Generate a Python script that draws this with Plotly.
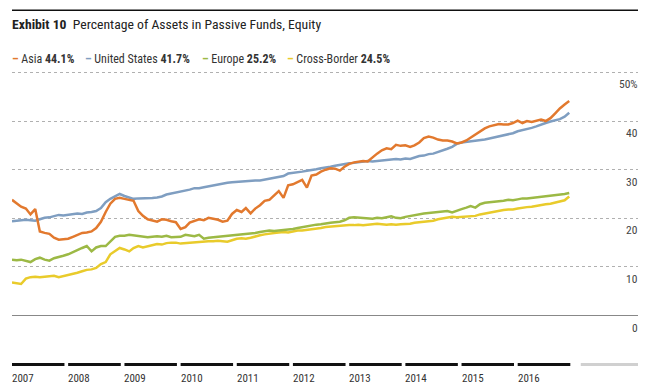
import plotly.graph_objects as go
import pandas as pd

dates = pd.date_range("2007-01-01", periods=120, freq="MS")

asia = [23.8, 23.0, 22.4, 22.0, 20.8, 21.9, 17.3, 17.0, 16.8, 16.0, 15.6, 15.7,
        15.8, 16.2, 16.6, 17.0, 17.1, 17.3, 18.0, 19.3, 21.3, 23.0, 24.0, 24.2,
        24.0, 23.8, 23.6, 21.5, 20.5, 19.8, 19.5, 19.3, 19.8, 19.7, 19.4, 19.2,
        17.8, 18.2, 19.1, 19.5, 19.8, 19.6, 20.1, 19.9, 19.7, 19.3, 19.5, 20.9,
        21.7, 21.3, 22.1, 21.0, 22.0, 22.7, 23.6, 23.8, 24.8, 25.6, 24.2, 26.8,
        27.0, 27.5, 27.9, 26.3, 28.8, 29.0, 29.6, 30.0, 30.3, 30.2, 29.8, 30.6,
        31.2, 31.5, 31.6, 31.8, 31.7, 32.6, 33.3, 34.0, 34.4, 34.2, 35.1, 34.9,
        35.0, 34.7, 35.0, 35.6, 36.5, 36.8, 36.6, 36.2, 36.0, 36.0, 35.8, 35.4,
        35.6, 36.0, 36.6, 37.3, 38.0, 38.5, 38.9, 39.2, 39.4, 39.3, 39.3, 39.6,
        40.1, 39.6, 40.0, 39.8, 40.1, 40.3, 40.0, 40.6, 41.6, 42.6, 43.4, 44.1]

us = [19.4, 19.5, 19.6, 19.7, 19.6, 19.5, 19.8, 20.1, 20.2, 20.5, 20.7, 20.6,
      20.7, 20.9, 21.0, 20.9, 21.2, 21.3, 21.5, 22.1, 23.3, 24.0, 24.6, 25.0,
      24.6, 24.2, 24.0, 24.1, 24.1, 24.1, 24.2, 24.3, 24.5, 24.9, 25.1, 25.2,
      25.4, 25.6, 25.9, 26.2, 26.2, 26.4, 26.6, 26.7, 26.9, 27.1, 27.3, 27.4,
      27.5, 27.6, 27.6, 27.7, 27.8, 27.8, 28.0, 28.1, 28.3, 28.5, 28.7, 29.2,
      29.3, 29.4, 29.6, 29.8, 29.9, 30.1, 30.3, 30.4, 30.6, 30.8, 31.0, 31.2,
      31.3, 31.4, 31.5, 31.6, 31.8, 31.7, 31.8, 31.9, 31.9, 32.0, 32.2, 32.1,
      32.3, 32.2, 32.5, 32.8, 32.9, 33.2, 33.3, 33.6, 33.9, 34.3, 34.7, 35.3,
      35.6, 35.7, 35.9, 36.0, 36.1, 36.2, 36.4, 36.6, 36.8, 37.0, 37.2, 37.5,
      37.9, 38.1, 38.3, 38.6, 38.9, 39.3, 39.6, 39.9, 40.1, 40.4, 40.9, 41.7]

europe = [11.5, 11.4, 11.5, 11.3, 11.0, 11.6, 11.9, 11.5, 11.3, 11.8, 12.0, 12.3,
          12.6, 13.1, 13.5, 13.9, 14.3, 13.2, 14.0, 14.3, 14.3, 15.2, 16.2, 16.4,
          16.4, 16.6, 16.5, 16.4, 16.2, 16.1, 16.2, 16.3, 16.2, 16.4, 16.1, 16.1,
          16.2, 16.6, 16.4, 16.3, 16.6, 15.8, 16.0, 16.1, 16.2, 16.3, 16.4, 16.5,
          16.6, 16.6, 16.7, 16.8, 17.0, 17.2, 17.3, 17.5, 17.4, 17.5, 17.6, 17.6,
          17.8, 18.0, 18.2, 18.4, 18.6, 18.7, 18.8, 19.0, 19.1, 19.2, 19.3, 19.6,
          20.1, 20.2, 20.1, 20.0, 20.0, 19.9, 20.1, 20.0, 20.2, 20.4, 20.1, 20.0,
          20.3, 20.5, 20.6, 20.8, 21.0, 21.1, 21.2, 21.3, 21.3, 21.5, 21.2, 21.6,
          21.9, 22.2, 22.5, 22.2, 22.9, 23.2, 23.3, 23.3, 23.5, 23.6, 23.8, 23.7,
          23.9, 24.1, 24.1, 24.2, 24.3, 24.4, 24.5, 24.6, 24.7, 24.9, 25.0, 25.2]

cross_border = [6.8, 6.6, 6.5, 7.6, 7.9, 8.0, 7.9, 8.0, 8.1, 8.2, 7.9, 8.1,
                8.4, 8.6, 8.8, 9.1, 9.4, 9.5, 9.8, 10.6, 11.0, 12.6, 13.2, 13.9,
                13.6, 13.2, 13.9, 14.3, 14.0, 14.2, 14.5, 14.7, 14.6, 14.9, 15.0, 15.0,
                14.8, 14.9, 15.0, 15.0, 15.1, 15.2, 15.3, 15.3, 15.4, 15.3, 15.2, 15.5,
                15.8, 15.9, 15.8, 16.0, 16.3, 16.5, 16.7, 16.9, 17.0, 17.1, 17.2, 17.1,
                17.3, 17.5, 17.5, 17.6, 17.8, 17.9, 18.0, 18.2, 18.3, 18.4, 18.5, 18.5,
                18.6, 18.6, 18.7, 18.6, 18.7, 18.8, 18.9, 18.8, 18.7, 18.8, 18.7, 18.8,
                18.8, 18.9, 19.1, 19.2, 19.3, 19.3, 19.5, 19.8, 20.0, 20.1, 20.3, 20.2,
                20.3, 20.4, 20.5, 20.5, 20.8, 21.0, 21.1, 21.3, 21.5, 21.7, 21.8, 21.8,
                22.0, 22.2, 22.3, 22.4, 22.6, 22.7, 22.9, 23.0, 23.2, 23.4, 23.7, 24.5]

series_names = ["Asia", "United States", "Europe", "Cross-Border"]
series_latest = ["44.1%", "41.7%", "25.2%", "24.5%"]
series_colors = ["#E2792E", "#7F9EC1", "#9CB945", "#E9CB2B"]
series_values = [asia, us, europe, cross_border]

years = [2007, 2008, 2009, 2010, 2011, 2012, 2013, 2014, 2015, 2016]
y_ticks = [0, 10, 20, 30, 40, 50]
y_tick_labels = ["0", "10", "20", "30", "40", "50%"]

FONT = "'Roboto Condensed', Roboto, 'Liberation Sans', sans-serif"

fig = go.Figure()
# draw in reverse so Asia on top
for name, vals, col in reversed(list(zip(series_names, series_values, series_colors))):
    fig.add_trace(go.Scatter(x=dates, y=vals, mode="lines", name=name,
                             line=dict(color=col, width=2.5), hoverinfo="skip"))

fig.update_layout(
    width=666, height=391,
    margin=dict(l=12, r=28, t=69.6, b=72.6),
    paper_bgcolor="white", plot_bgcolor="white",
    showlegend=False,
    font=dict(family=FONT, color="#333"),
    xaxis=dict(type="date", range=["2007-01-01", "2018-02-21"], showticklabels=False,
               showgrid=False, zeroline=False, showline=False, fixedrange=True),
    yaxis=dict(range=[-0.5, 50.5], tickvals=y_ticks[1:], showticklabels=False,
               showgrid=True, gridcolor="#b0b0b0", griddash="dot", gridwidth=1,
               zeroline=True, zerolinecolor="#888888", zerolinewidth=1,
               showline=False, fixedrange=True),
)

# y labels below the gridlines, right aligned
for v, lab in zip(y_ticks, y_tick_labels):
    fig.add_annotation(x=1, xref="paper", y=v, yref="y", text=lab, showarrow=False,
                       xanchor="right", yanchor="top", yshift=-3, xshift=2,
                       font=dict(size=11.5, color="#444", family=FONT))

# year bars + labels
for yr in years:
    fig.add_shape(type="line", xref="x", yref="paper",
                  x0=f"{yr}-01-01", x1=f"{yr}-12-08", y0=-0.187, y1=-0.187,
                  line=dict(color="#111", width=3))
    fig.add_annotation(x=f"{yr}-01-01", xref="x", y=-0.243, yref="paper", text=str(yr),
                       showarrow=False, xanchor="left", yanchor="middle", xshift=-2,
                       font=dict(size=11, color="#333", family=FONT))
fig.add_shape(type="line", xref="x", yref="paper",
              x0="2017-02-14", x1="2018-02-21", y0=-0.187, y1=-0.187,
              line=dict(color="#d0d0d0", width=3))

# top rule
fig.add_shape(type="line", xref="x", yref="paper", x0="2007-01-01", x1="2018-03-18",
              y0=1.241, y1=1.241, line=dict(color="#111", width=1.5))

# title
fig.add_annotation(x=0, xref="paper", y=1.187, yref="paper", showarrow=False,
                   xanchor="left", yanchor="middle", xshift=-2,
                   text="<b>Exhibit 10</b>  Percentage of Assets in Passive Funds, Equity",
                   font=dict(size=13.7, color="#222", family=FONT))

# legend items (one annotation each)
legend_x = [0.0, 0.1166, 0.3035, 0.4393]
for lx, name, latest, col in zip(legend_x, series_names, series_latest, series_colors):
    fig.add_annotation(x=lx, xref="paper", y=1.045, yref="paper", showarrow=False,
                       xanchor="left", yanchor="middle", xshift=-2,
                       text=f"<span style='color:{col}'><b>–</b></span> {name} <b>{latest}</b>",
                       font=dict(size=12, color="#333", family=FONT))

fig.write_html("out.html", config={"displayModeBar": False},
               post_script="document.body.style.margin='0';")
